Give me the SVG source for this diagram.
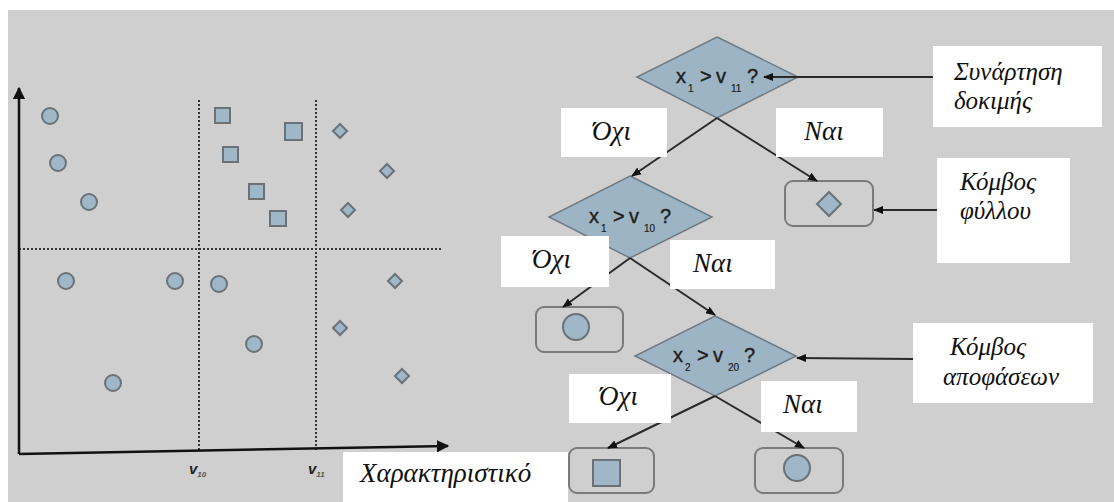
<svg xmlns="http://www.w3.org/2000/svg" width="1114" height="502" viewBox="0 0 1114 502">
  <style>
    .pt { fill: #9fb7c7; stroke: #6a7278; stroke-width: 2; }
    .dec { fill: #9db4c5; stroke: #6f7a82; stroke-width: 1.5; }
    .leaf { fill: #cfcfcf; stroke: #7a7a7a; stroke-width: 2; }
    .grid { stroke: #333; stroke-width: 2; stroke-dasharray: 2 2; fill: none; }
    .axis { stroke: #111; stroke-width: 2.5; fill: none; }
    .edge { stroke: #2a2a2a; stroke-width: 2; fill: none; marker-end: url(#arr); }
    .box { fill: #ffffff; }
    .lbl { font-family: "Liberation Serif", "DejaVu Serif", serif; font-style: italic; font-size: 27px; fill: #111; }
    .note { font-size: 25px; }
    .cond { font-family: "Liberation Sans", Arial, sans-serif; font-size: 20px; fill: #1e1e1e; stroke: #1e1e1e; stroke-width: 0.4; }
    .sub { font-size: 10px; stroke-width: 0.2; }
    .tick { font-family: "Liberation Sans", Arial, sans-serif; font-weight: bold; font-style: italic; font-size: 15px; fill: #222; }
    .ticksub { font-size: 8px; fill: #555; }
  </style>
  <defs>
    <marker id="arr" viewBox="0 0 10 10" refX="9" refY="5" markerWidth="5" markerHeight="5" orient="auto">
      <path d="M0,1 L10,5 L0,9 z" fill="#111"/>
    </marker>
    <marker id="axarr" viewBox="0 0 10 10" refX="9" refY="5" markerWidth="5" markerHeight="5" orient="auto">
      <path d="M0,0 L10,5 L0,10 z" fill="#111"/>
    </marker>
  </defs>

  <!-- background panel -->
  <rect x="0" y="0" width="1114" height="502" fill="#ffffff"/>
  <rect x="8" y="10" width="1106" height="492" fill="#cfcfcf"/>

  <!-- feature space plot -->
  <g id="plot">
    <line class="grid" x1="199" y1="100" x2="199" y2="452"/>
    <line class="grid" x1="316" y1="100" x2="316" y2="450"/>
    <line class="grid" x1="19" y1="249" x2="443" y2="249"/>
    <line class="axis" x1="19" y1="454" x2="19" y2="88" marker-end="url(#axarr)"/>
    <line class="axis" x1="19" y1="454" x2="448" y2="446" marker-end="url(#axarr)"/>
    <g id="circles">
      <circle class="pt" cx="50" cy="116" r="8"/>
      <circle class="pt" cx="58" cy="163" r="8"/>
      <circle class="pt" cx="89" cy="202" r="8"/>
      <circle class="pt" cx="66" cy="281" r="8"/>
      <circle class="pt" cx="175" cy="281" r="8"/>
      <circle class="pt" cx="219" cy="284" r="8"/>
      <circle class="pt" cx="254" cy="344" r="8"/>
      <circle class="pt" cx="113" cy="383" r="8"/>
    </g>
    <g id="squares">
      <rect class="pt" x="215" y="108" width="15" height="15"/>
      <rect class="pt" x="285" y="123" width="17" height="17"/>
      <rect class="pt" x="223" y="147" width="15" height="15"/>
      <rect class="pt" x="249" y="184" width="15" height="15"/>
      <rect class="pt" x="270" y="211" width="16" height="15"/>
    </g>
    <g id="diamonds">
      <path class="pt" d="M340,124 L347,131 L340,138 L333,131 z"/>
      <path class="pt" d="M387,164 L394,171 L387,178 L380,171 z"/>
      <path class="pt" d="M348,203 L355,210 L348,217 L341,210 z"/>
      <path class="pt" d="M395,274 L402,281 L395,288 L388,281 z"/>
      <path class="pt" d="M340,321 L347,328 L340,335 L333,328 z"/>
      <path class="pt" d="M402,369 L409,376 L402,383 L395,376 z"/>
    </g>
    <text class="tick" x="189" y="474">v<tspan class="ticksub" dy="3">10</tspan></text>
    <text class="tick" x="308" y="474">v<tspan class="ticksub" dy="3">11</tspan></text>
    <g id="feature-label">
      <rect class="box" x="343" y="452" width="225" height="50"/>
      <text class="lbl" x="360" y="482">Χαρακτηριστικό</text>
    </g>
  </g>

  <!-- decision nodes -->
  <g id="node-x1-v11">
    <path class="dec" d="M717,37 L798,77 L717,118 L637,77 z"/>
    <text class="cond" y="83"><tspan x="676">x</tspan><tspan class="sub" x="688" y="92">1</tspan><tspan x="700" y="83">&gt;</tspan><tspan x="716">v</tspan><tspan class="sub" x="731" y="92">11</tspan><tspan x="747" y="83">?</tspan></text>
  </g>
  <g id="node-x1-v10">
    <path class="dec" d="M630,176 L712,217 L630,258 L549,217 z"/>
    <text class="cond" y="223"><tspan x="589">x</tspan><tspan class="sub" x="601" y="232">1</tspan><tspan x="613" y="223">&gt;</tspan><tspan x="629">v</tspan><tspan class="sub" x="644" y="232">10</tspan><tspan x="660" y="223">?</tspan></text>
  </g>
  <g id="node-x2-v20">
    <path class="dec" d="M715,316 L796,356 L715,396 L635,356 z"/>
    <text class="cond" y="362"><tspan x="673">x</tspan><tspan class="sub" x="685" y="371">2</tspan><tspan x="697" y="362">&gt;</tspan><tspan x="713">v</tspan><tspan class="sub" x="728" y="371">20</tspan><tspan x="744" y="362">?</tspan></text>
  </g>

  <!-- leaf nodes -->
  <g id="leaf-diamond">
    <rect class="leaf" x="785" y="181" width="88" height="45" rx="8"/>
    <path class="pt" d="M829,192 L841,204 L829,216 L817,204 z"/>
  </g>
  <g id="leaf-circle-1">
    <rect class="leaf" x="536" y="307" width="87" height="45" rx="8"/>
    <circle class="pt" cx="576" cy="327" r="13"/>
  </g>
  <g id="leaf-square">
    <rect class="leaf" x="569" y="448" width="85" height="45" rx="8"/>
    <rect class="pt" x="593" y="460" width="27" height="26"/>
  </g>
  <g id="leaf-circle-2">
    <rect class="leaf" x="755" y="448" width="88" height="45" rx="8"/>
    <circle class="pt" cx="797" cy="468" r="13"/>
  </g>

  <!-- tree connectors (drawn over the nodes, under the label boxes) -->
  <g id="connectors">
    <line class="edge" x1="717" y1="118" x2="632" y2="176"/>
    <line class="edge" x1="717" y1="118" x2="817" y2="181"/>
    <line class="edge" x1="630" y1="258" x2="563" y2="307"/>
    <line class="edge" x1="630" y1="258" x2="715" y2="315"/>
    <line class="edge" x1="715" y1="396" x2="608" y2="448"/>
    <line class="edge" x1="715" y1="396" x2="804" y2="448"/>
    <line class="edge" x1="933" y1="77" x2="764" y2="77"/>
    <line class="edge" x1="937" y1="210" x2="874" y2="210"/>
    <line class="edge" x1="913" y1="359" x2="797" y2="358"/>
  </g>

  <!-- edge labels -->
  <g id="label-no-1">
    <rect class="box" x="561" y="108" width="106" height="49"/>
    <text class="lbl" x="592" y="140">Όχι</text>
  </g>
  <g id="label-yes-1">
    <rect class="box" x="776" y="108" width="107" height="49"/>
    <text class="lbl" x="804" y="140">Ναι</text>
  </g>
  <g id="label-no-2">
    <rect class="box" x="501" y="236" width="108" height="51"/>
    <text class="lbl" x="532" y="268">Όχι</text>
  </g>
  <g id="label-yes-2">
    <rect class="box" x="670" y="240" width="105" height="49"/>
    <text class="lbl" x="693" y="272">Ναι</text>
  </g>
  <g id="label-no-3">
    <rect class="box" x="569" y="374" width="102" height="49"/>
    <text class="lbl" x="599" y="405">Όχι</text>
  </g>
  <g id="label-yes-3">
    <rect class="box" x="761" y="381" width="96" height="51"/>
    <text class="lbl" x="783" y="413">Ναι</text>
  </g>

  <!-- annotation boxes -->
  <g id="note-test">
    <rect class="box" x="933" y="46" width="169" height="81"/>
    <text class="lbl note"><tspan x="954" y="80">Συνάρτηση</tspan><tspan x="954" y="109">δοκιμής</tspan></text>
  </g>
  <g id="note-leaf">
    <rect class="box" x="937" y="158" width="133" height="105"/>
    <text class="lbl note"><tspan x="960" y="190">Κόμβος</tspan><tspan x="960" y="219">φύλλου</tspan></text>
  </g>
  <g id="note-decision">
    <rect class="box" x="913" y="323" width="180" height="80"/>
    <text class="lbl note"><tspan x="950" y="355">Κόμβος</tspan><tspan x="943" y="385">αποφάσεων</tspan></text>
  </g>
</svg>
